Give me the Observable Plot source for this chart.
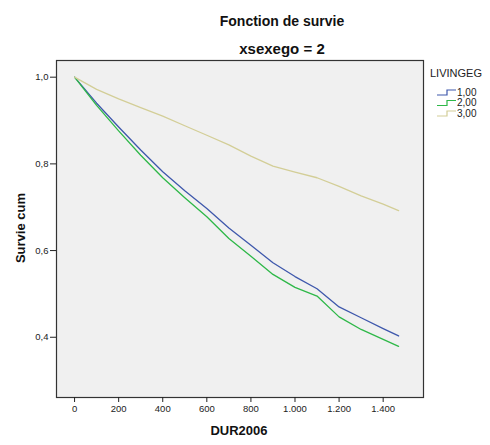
<!DOCTYPE html>
<html><head><meta charset="utf-8">
<script src="https://cdn.jsdelivr.net/npm/d3@7"></script>
<script src="https://cdn.jsdelivr.net/npm/@observablehq/plot@0.6"></script>
<style>body{margin:0;background:#fff} svg{display:block}</style>
</head><body><div id="chart"></div>
<script>
const days = [0,100,200,300,400,500,600,700,800,900,1000,1100,1200,1300,1400,1470];
const groups = ["1,00","2,00","3,00"];
const survie1 = [1.0,0.94,0.885,0.832,0.782,0.738,0.697,0.652,0.612,0.572,0.540,0.512,0.470,0.445,0.420,0.403];
const survie2 = [1.0,0.935,0.876,0.820,0.768,0.722,0.678,0.628,0.587,0.545,0.515,0.495,0.447,0.418,0.395,0.379];
const survie3 = [1.0,0.972,0.950,0.930,0.910,0.888,0.866,0.844,0.818,0.795,0.781,0.768,0.748,0.726,0.707,0.692];
const colors = ["#3e58ac","#2eb848","#d3ce97"];
const xTicks = [0,200,400,600,800,1000,1200,1400];
const yTicks = [0.4,0.6,0.8,1.0];
const title = "Fonction de survie";
const subtitle = "xsexego = 2";
const xLabel = "DUR2006";
const yLabel = "Survie cum";
const legendTitle = "LIVINGEG";

const series = [survie1, survie2, survie3];
const data = groups.flatMap((g,i) => days.map((d,j) => ({g, t:d, s:series[i][j]})));

const font = "Arial, 'Liberation Sans', sans-serif";
const svg = Plot.plot({
  width:490, height:445, marginLeft:56, marginRight:67, marginTop:60, marginBottom:48,
  style:{fontFamily:font, fontSize:"9.5px", background:"#fff", color:"#222"},
  x:{domain:[-82,1583], label:null},
  y:{domain:[0.261,1.0385], label:null},
  color:{domain:groups, range:colors},
  marks:[
    Plot.frame({fill:"#f0f0f0"}),
    Plot.line(data,{x:"t", y:"s", z:"g", stroke:"g", strokeWidth:1.3}),
    Plot.frame({stroke:"#333", strokeWidth:1.2}),
    Plot.axisX({ticks:xTicks, tickSize:5, tickPadding:3, label:null,
      tickFormat: d => d3.format(",")(d).replace(/,/g,".")}),
    Plot.axisY({ticks:yTicks, tickSize:6, tickPadding:2, label:null,
      tickFormat: d => d.toFixed(1).replace(".",",")})
  ]
});
document.getElementById("chart").appendChild(svg);

const s = d3.select(svg);
s.append("text").attr("x",282).attr("y",26).attr("text-anchor","middle")
  .style("font","bold 14px "+font).attr("fill","#111").text(title);
s.append("text").attr("x",282).attr("y",54).attr("text-anchor","middle")
  .style("font","bold 15px "+font).attr("fill","#111").text(subtitle);
s.append("text").attr("x",239).attr("y",435).attr("text-anchor","middle")
  .style("font","bold 13px "+font).attr("fill","#111").text(xLabel);
s.append("text").attr("transform","translate(25,228) rotate(-90)").attr("text-anchor","middle")
  .style("font","bold 13px "+font).attr("fill","#111").text(yLabel);

const lg = s.append("g").attr("text-anchor","start");
lg.append("text").attr("x",430).attr("y",77).style("font","11px "+font).attr("fill","#222").text(legendTitle);
groups.forEach((g,i) => {
  const y = 92 + i*10.5;
  lg.append("path").attr("d",`M437,${y+3}H447V${y-2}H456`).attr("fill","none")
    .attr("stroke",colors[i]).attr("stroke-width",1.2);
  lg.append("text").attr("x",457).attr("y",y+3.5).style("font","10px "+font).attr("fill","#222").text(g);
});
</script>
</body></html>
